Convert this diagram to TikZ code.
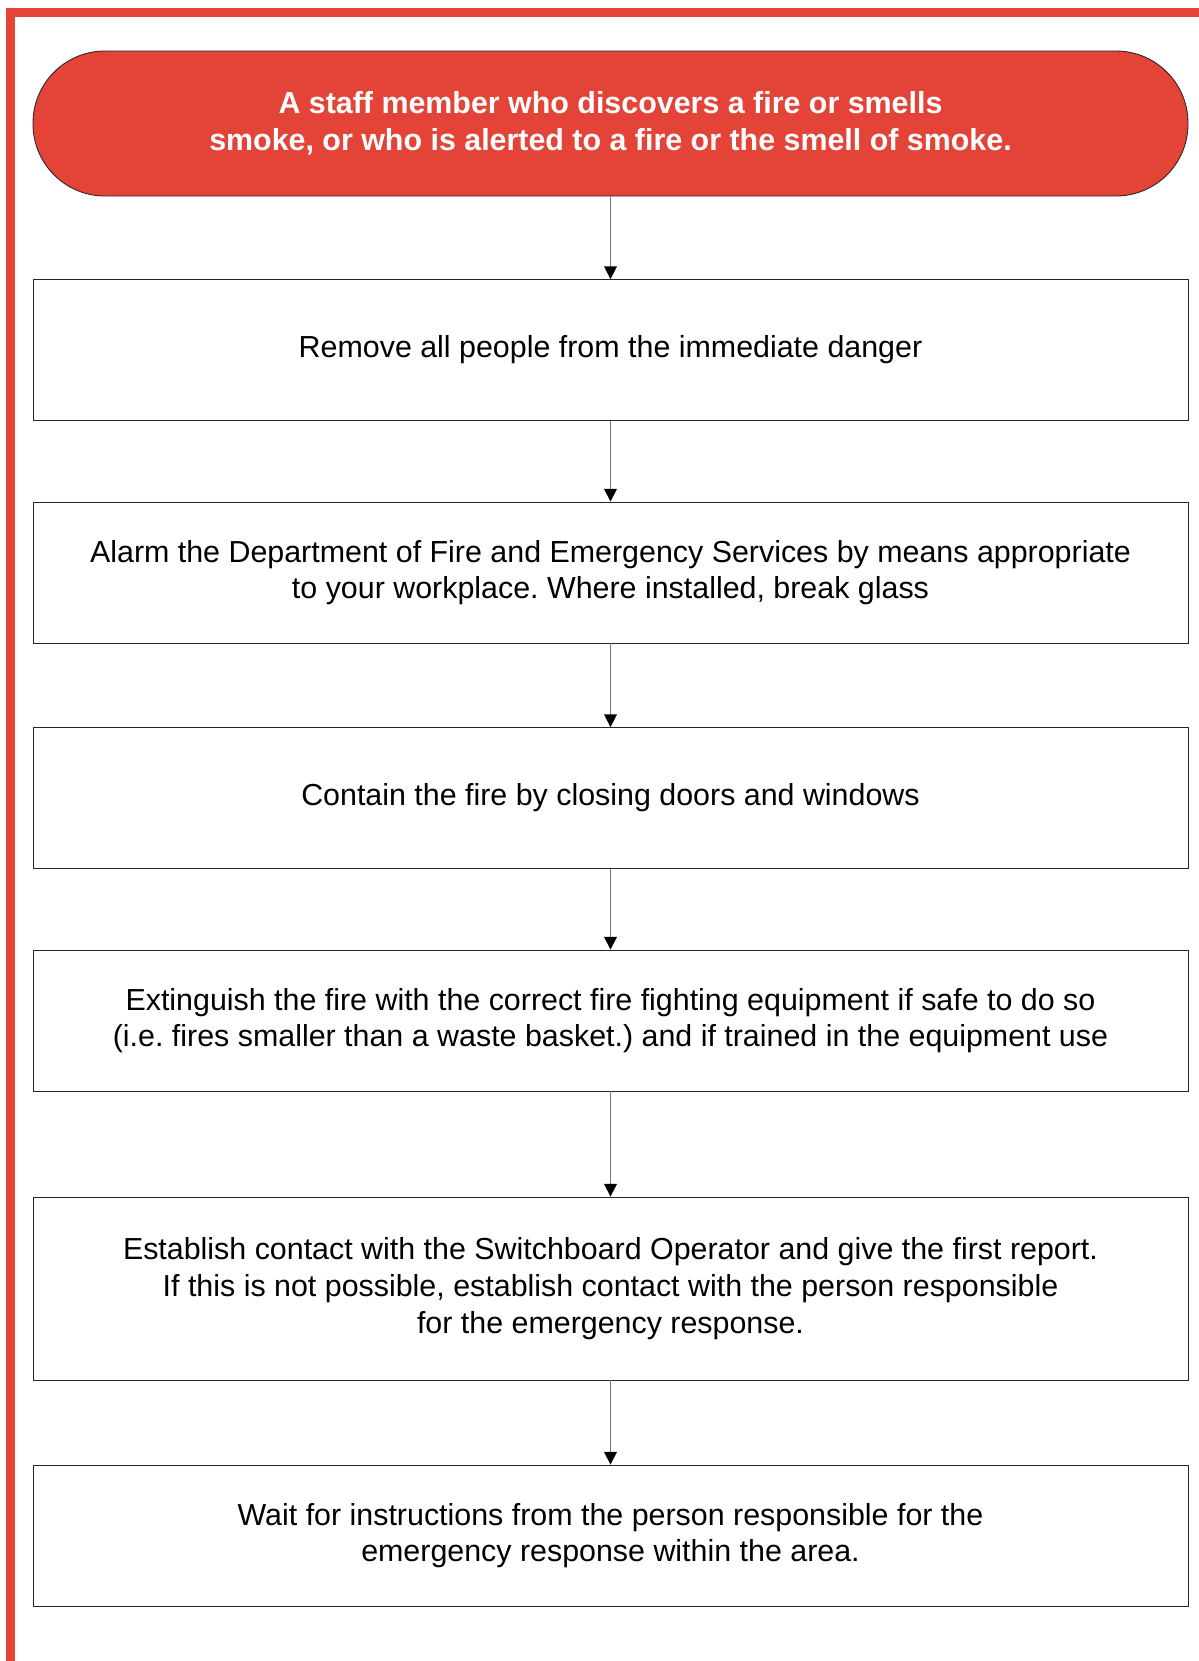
\documentclass[tikz,border=0pt]{standalone}
\usepackage{fontspec}
\setmainfont{Liberation Sans}
\frenchspacing
\usetikzlibrary{arrows.meta}
\definecolor{firered}{RGB}{227,68,55}
\definecolor{linkgray}{RGB}{120,120,120}
\begin{document}
\begin{tikzpicture}[x=0.75pt,y=-0.75pt,
  stepbox/.style={draw=black!85,line width=0.65pt,rectangle,minimum width=866.25pt,
    minimum height=105.75pt,inner sep=0pt,align=center,
    font=\fontsize{22.8pt}{27.5pt}\selectfont},
  startbox/.style={draw=black!85,line width=0.65pt,fill=firered,rounded corners=54pt,
    minimum width=866.25pt,minimum height=108.75pt,inner sep=0pt,align=center,
    text=white,font=\fontsize{22.8pt}{27.5pt}\selectfont\bfseries},
  link/.style={draw=linkgray,line width=1.2pt,
    -{Triangle[width=9.5pt,length=9.5pt,color=black]}}]
\useasboundingbox (0,0) rectangle (1199,1661);
% red page frame along the top and left edges
\fill[firered] (6,8) rectangle (1199,17);
\fill[firered] (6,8) rectangle (15,1661);

\node[startbox] (s) at (610.5,123.5) {A staff member who discovers a fire or smells\\smoke, or who is alerted to a fire or the smell of smoke.};
\node[stepbox] (b1) at (610.5,350) {Remove all people from the immediate danger};
\node[stepbox] (b2) at (610.5,572.5) {Alarm the Department of Fire and Emergency Services by means appropriate\\to your workplace. Where installed, break glass};
\node[stepbox] (b3) at (610.5,798) {Contain the fire by closing doors and windows};
\node[stepbox] (b4) at (610.5,1020.5) {Extinguish the fire with the correct fire fighting equipment if safe to do so\\(i.e. fires smaller than a waste basket.) and if trained in the equipment use};
\node[stepbox,minimum height=137.25pt] (b5) at (610.5,1288.5) {Establish contact with the Switchboard Operator and give the first report.\\If this is not possible, establish contact with the person responsible\\for the emergency response.};
\node[stepbox] (b6) at (610.5,1535.5) {Wait for instructions from the person responsible for the\\emergency response within the area.};

\draw[link] (s) -- (b1);
\draw[link] (b1) -- (b2);
\draw[link] (b2) -- (b3);
\draw[link] (b3) -- (b4);
\draw[link] (b4) -- (b5);
\draw[link] (b5) -- (b6);
\end{tikzpicture}
\end{document}
